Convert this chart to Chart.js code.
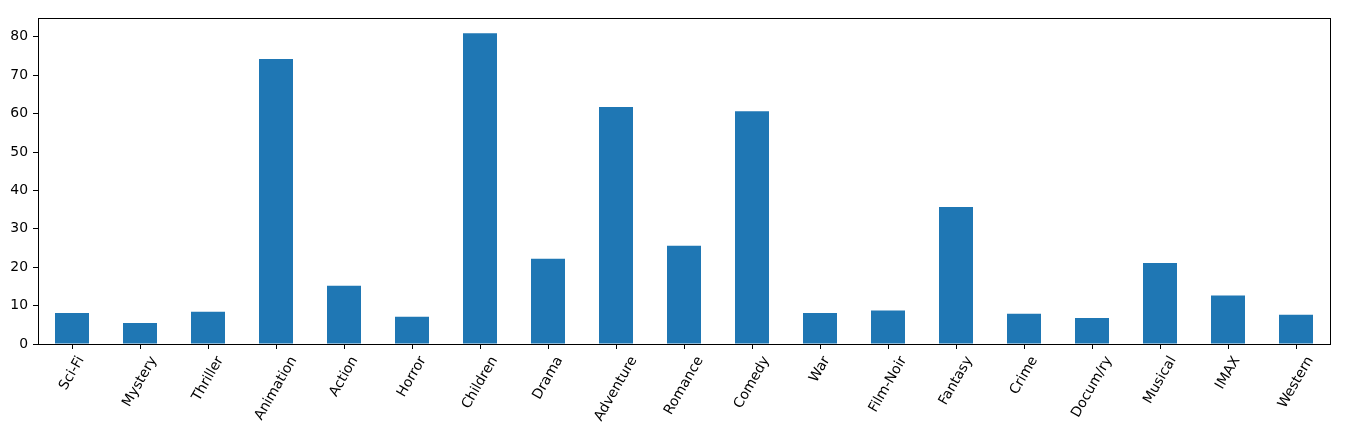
<!DOCTYPE html>
<html lang="en">
<head>
<meta charset="UTF-8">
<title>Genres</title>
<script src="https://cdn.jsdelivr.net/npm/chart.js@4.4.1/dist/chart.umd.min.js"></script>
<style>body{margin:0;background:#fff}</style>
</head>
<body>
<canvas id="chart" width="1346" height="422"></canvas>
<script>
const genres = ['Sci-Fi', 'Mystery', 'Thriller', 'Animation', 'Action', 'Horror', 'Children', 'Drama', 'Adventure', 'Romance',
    'Comedy', 'War', 'Film-Noir', 'Fantasy', 'Crime', 'Docum/ry', 'Musical', 'IMAX', 'Western']
const values = [8.1, 5.5, 8.4, 74.2, 15.2, 7.1, 80.9, 22.2, 61.7, 25.6,
    60.6, 8.1, 8.7, 35.7, 7.9, 6.8, 21.1, 12.6, 7.6]
const yTicks = [0, 10, 20, 30, 40, 50, 60, 70, 80]
const yMax = 84.9

const font = '13.9px "DejaVu Sans"'

// matplotlib style: full frame + x labels centred on the tick, rotated 60deg
const frameAndLabels = {
    id: 'frameAndLabels',
    afterDraw(chart) {
        const ctx = chart.ctx
        const area = chart.chartArea
        const xs = chart.scales.x
        ctx.save()
        ctx.strokeStyle = '#000'
        ctx.lineWidth = 1
        ctx.strokeRect(area.left + 0.5, area.top + 0.5, area.right - area.left, area.bottom - area.top)

        ctx.font = font
        ctx.fillStyle = '#000'
        const a = 60 * Math.PI / 180
        const h = 16
        genres.forEach((g, i) => {
            const w = ctx.measureText(g).width
            const bh = w * Math.sin(a) + h * Math.cos(a)
            const cx = xs.getPixelForTick(i)
            const cy = area.bottom + 9.7 + bh / 2
            ctx.save()
            ctx.translate(cx, cy)
            ctx.rotate(-a)
            ctx.textAlign = 'center'
            ctx.textBaseline = 'middle'
            ctx.fillText(g, 0, 0)
            ctx.restore()
        })
        ctx.restore()
    }
}

const ctx = document.getElementById('chart').getContext('2d')
new Chart(ctx, {
    type: 'bar',
    data: {
        labels: genres,
        datasets: [{
            data: values,
            backgroundColor: '#1f77b4',
            borderWidth: 0,
            barPercentage: 0.5,
            categoryPercentage: 1
        }]
    },
    options: {
        responsive: false,
        animation: false,
        layout: { padding: { top: 18, right: 16, left: 0, bottom: 0 } },
        plugins: { legend: { display: false }, tooltip: { enabled: false } },
        scales: {
            x: {
                offset: true,
                grid: { display: true, drawOnChartArea: false, drawTicks: true, tickLength: 5, offset: false, color: '#000' },
                border: { display: true, color: '#000', width: 1 },
                ticks: { display: false },
                afterFit(scale) { scale.height = 78 }
            },
            y: {
                min: 0,
                max: yMax,
                grid: { display: true, drawOnChartArea: false, drawTicks: true, tickLength: 5, color: '#000' },
                border: { display: true, color: '#000', width: 1 },
                ticks: { color: '#000', padding: 5, font: { family: 'DejaVu Sans', size: 13.9 } },
                afterBuildTicks(scale) { scale.ticks = yTicks.map(v => ({ value: v })) },
                afterFit(scale) { scale.width = 38 }
            }
        }
    },
    plugins: [frameAndLabels]
})
</script>
</body>
</html>
